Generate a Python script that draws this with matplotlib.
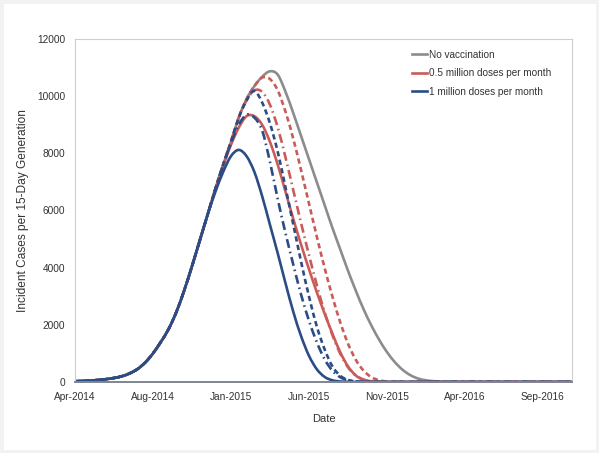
import matplotlib
matplotlib.use("Agg")
import matplotlib.pyplot as plt
import matplotlib.dates as mdates
from matplotlib.patches import Rectangle, PathPatch
from matplotlib.path import Path
from matplotlib.lines import Line2D
import numpy as np
import pandas as pd

# 15-day generations starting April 2014
start_date = "2014-04-01"
n_generations = 65

# Incident cases per generation, no vaccination
no_vacc = [25, 35, 50, 70, 100, 140, 200, 300, 450, 680,
           1000, 1400, 1850, 2450, 3200, 4050, 4950, 5850, 6750, 7600,
           8400, 9250, 9900, 10350, 10680, 10870, 10750, 10150, 9400, 8600,
           7800, 7000, 6200, 5400, 4650, 3900, 3200, 2550, 1980, 1480,
           1050, 700, 430, 240, 120, 60, 28, 12, 5, 2,
           1, 0, 0, 0, 0, 0, 0, 0, 0, 0,
           0, 0, 0, 0, 0]

# Vaccination scenarios: generation where the curve departs from the
# no-vaccination curve, followed by the values from that generation on.
half_m_early_start = 19
half_m_early = [7550, 8300, 8900, 9300, 9300, 9000, 8400, 7600, 6650, 5700,
                4800, 3950, 3150, 2400, 1700, 1050, 550, 230, 80, 25, 8, 2]
half_m_mid_start = 22
half_m_mid = [9850, 10200, 10150, 9700, 8900, 7850, 6700, 5550, 4450, 3400,
              2450, 1650, 1000, 520, 230, 85, 25, 6, 2]
half_m_late_start = 24
half_m_late = [10650, 10600, 10200, 9450, 8500, 7400, 6250, 5100, 4000, 3000,
               2100, 1350, 780, 400, 170, 60, 18, 5, 1]

one_m_early_start = 18
one_m_early = [6650, 7350, 7900, 8120, 7900, 7350, 6500, 5500, 4500, 3450,
               2450, 1600, 920, 450, 180, 60, 18, 5, 1]
one_m_mid_start = 20
one_m_mid = [8350, 9000, 9350, 9250, 8800, 7700, 6400, 5200, 4100, 3050,
             2150, 1400, 800, 400, 170, 60, 20, 5, 1]
one_m_late_start = 22
one_m_late = [9850, 10180, 9780, 9050, 8050, 6800, 5500, 4200, 3000, 1950,
              1150, 550, 220, 75, 20, 5, 1]

y_ticks = [0, 2000, 4000, 6000, 8000, 10000, 12000]
legend_labels = ["No vaccination", "0.5 million doses per month",
                 "1 million doses per month"]

GREY = "#8c8c8c"
RED = "#c95c59"
BLUE = "#2b4c85"
DASHED = (0, (2.0, 1.3))
DASHDOT = (0, (3.4, 1.5, 0.6, 1.5))


def scenario(branch_start, values):
    series = list(no_vacc[:branch_start]) + list(values)
    series += [0] * (n_generations - len(series))
    return series[:n_generations]


def smooth_path(x, y):
    """Smoothed line through the points (Catmull-Rom as cubic Beziers)."""
    pts = np.column_stack([x, y]).astype(float)
    ext = np.vstack([pts[0], pts, pts[-1]])
    verts = [pts[0]]
    codes = [Path.MOVETO]
    for i in range(len(pts) - 1):
        p0, p1, p2, p3 = ext[i], ext[i + 1], ext[i + 2], ext[i + 3]
        verts += [p1 + (p2 - p0) / 6.0, p2 - (p3 - p1) / 6.0, p2]
        codes += [Path.CURVE4] * 3
    return Path(verts, codes)


def draw(ax, x, y, color, ls="-", lw=1.9):
    patch = PathPatch(smooth_path(x, y), facecolor="none", edgecolor=color,
                      linewidth=lw, linestyle=ls, capstyle="butt",
                      joinstyle="round")
    ax.add_patch(patch)


dates = pd.date_range(start_date, periods=n_generations, freq="15D")
xnum = mdates.date2num(dates.to_pydatetime())

plt.rcParams["font.family"] = ["Liberation Sans", "DejaVu Sans"]

fig = plt.figure(figsize=(5.99, 4.53), dpi=100)
fig.patch.set_facecolor("white")
fig.patches.append(Rectangle((0, 0), 1, 1, transform=fig.transFigure,
                             fill=False, edgecolor="#f2f2f2", linewidth=5,
                             zorder=0))

ax = fig.add_axes([75 / 599, 1 - 382 / 453, 497 / 599, 343 / 453])

draw(ax, xnum, no_vacc, GREY)

draw(ax, xnum, scenario(half_m_late_start, half_m_late), RED, DASHED)
draw(ax, xnum, scenario(half_m_mid_start, half_m_mid), RED, DASHDOT)
draw(ax, xnum, scenario(half_m_early_start, half_m_early), RED)

draw(ax, xnum, scenario(one_m_late_start, one_m_late), BLUE, DASHED)
draw(ax, xnum, scenario(one_m_mid_start, one_m_mid), BLUE, DASHDOT)
draw(ax, xnum, scenario(one_m_early_start, one_m_early), BLUE)

# Axis range and ticks: labels every 150 days
ax.xaxis_date()
ax.set_xlim(dates[0], dates[0] + pd.Timedelta(days=956))
ax.set_ylim(0, 12000)
ax.set_yticks(y_ticks)
tick_dates = [dates[0] + pd.Timedelta(days=150 * k) for k in range(7)]
ax.set_xticks(tick_dates)
ax.xaxis.set_major_formatter(mdates.DateFormatter("%b-%Y"))
ax.tick_params(axis="both", length=0, labelsize=7.3, colors="#333333",
               pad=7)

for side in ("left", "top", "right"):
    ax.spines[side].set_color("#cfcfcf")
    ax.spines[side].set_linewidth(0.8)
ax.spines["bottom"].set_color("#7f8590")
ax.spines["bottom"].set_linewidth(1.4)

ax.set_xlabel("Date", fontsize=8, color="#333333", labelpad=9)
ax.set_ylabel("Incident Cases per 15-Day Generation", fontsize=8.6,
              color="#333333", labelpad=6)

handles = [Line2D([], [], color=c, lw=1.9) for c in (GREY, RED, BLUE)]
ax.legend(handles, legend_labels, loc="upper left",
          bbox_to_anchor=(0.66, 0.995), frameon=False, fontsize=7.2,
          handlelength=1.45, handletextpad=0.2, labelspacing=0.85,
          labelcolor="#333333")

fig.savefig("out.png", dpi=100)
